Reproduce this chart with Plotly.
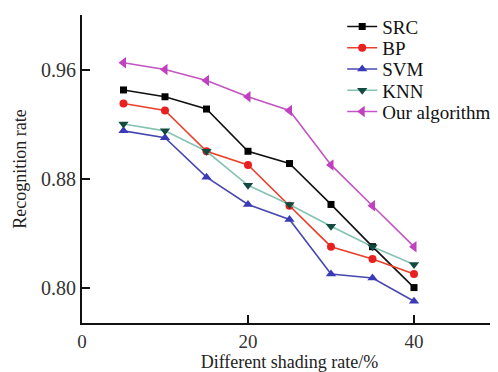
import plotly.graph_objects as go

rates = [5, 10, 15, 20, 25, 30, 35, 40]
src = [0.945, 0.940, 0.931, 0.900, 0.891, 0.861, 0.830, 0.800]
bp = [0.935, 0.930, 0.900, 0.890, 0.860, 0.830, 0.821, 0.810]
svm = [0.915, 0.910, 0.881, 0.861, 0.850, 0.810, 0.807, 0.790]
knn = [0.920, 0.915, 0.900, 0.875, 0.861, 0.845, 0.830, 0.817]
ours = [0.965, 0.960, 0.952, 0.940, 0.930, 0.890, 0.860, 0.830]

x_ticks = [0, 20, 40, 50]
x_labels = ["0", "20", "40", ""]
y_ticks = [0.80, 0.88, 0.96, 1.00]
y_labels = ["0.80", "0.88", "0.96", ""]

FONT = "Liberation Serif, Times New Roman, serif"

series = [
    ("SRC", src, "#111111", "#000000", "square", 7),
    ("BP", bp, "#e8402a", "#e82020", "circle", 8),
    ("SVM", svm, "#4848b0", "#3a3ab8", "triangle-up", 9),
    ("KNN", knn, "#86c2b4", "#124a40", "triangle-down", 9),
    ("Our algorithm", ours, "#c255c2", "#c040c0", "triangle-left", 10),
]

fig = go.Figure()
legend_layouts = {}
row_step = 0.069
for i, (name, vals, lc, mc, sym, sz) in enumerate(series):
    lname = "legend" if i == 0 else f"legend{i + 1}"
    fig.add_trace(go.Scatter(
        x=rates, y=vals, name=name, mode="lines+markers",
        line=dict(color=lc, width=1.6),
        marker=dict(color=mc, symbol=sym, size=sz, line=dict(width=0)),
        legend=lname,
    ))
    legend_layouts[lname] = dict(
        x=0.627, y=0.962 - i * row_step, xanchor="left", yanchor="middle",
        bgcolor="rgba(0,0,0,0)", borderwidth=0,
        font=dict(size=19, family=FONT, color="#111111"),
    )

fig.update_layout(
    width=490, height=364,
    margin=dict(l=74, r=1, t=7, b=49, autoexpand=False),
    paper_bgcolor="white", plot_bgcolor="white",
    font=dict(family=FONT, color="#222222", size=19),
    showlegend=True,
    xaxis=dict(range=[0, 50], tickvals=x_ticks, ticktext=x_labels,
               showline=True, linecolor="#111111", linewidth=2,
               ticks="inside", ticklen=8, tickwidth=2, tickcolor="#111111",
               showgrid=False, zeroline=False,
               tickfont=dict(size=19, family=FONT, color="#333333"),
               title=dict(text="Different shading rate/%", font=dict(size=18, family=FONT, color="#222222"), standoff=8)),
    yaxis=dict(range=[0.774, 1.0], tickvals=y_ticks, ticktext=y_labels,
               showline=True, linecolor="#111111", linewidth=2,
               ticks="inside", ticklen=8, tickwidth=2, tickcolor="#111111",
               showgrid=False, zeroline=False,
               tickfont=dict(size=20, family=FONT, color="#333333"),
               title=dict(text="Recognition rate", font=dict(size=18, family=FONT, color="#222222"), standoff=10)),
    **legend_layouts,
)

fig.write_html("out.html")
